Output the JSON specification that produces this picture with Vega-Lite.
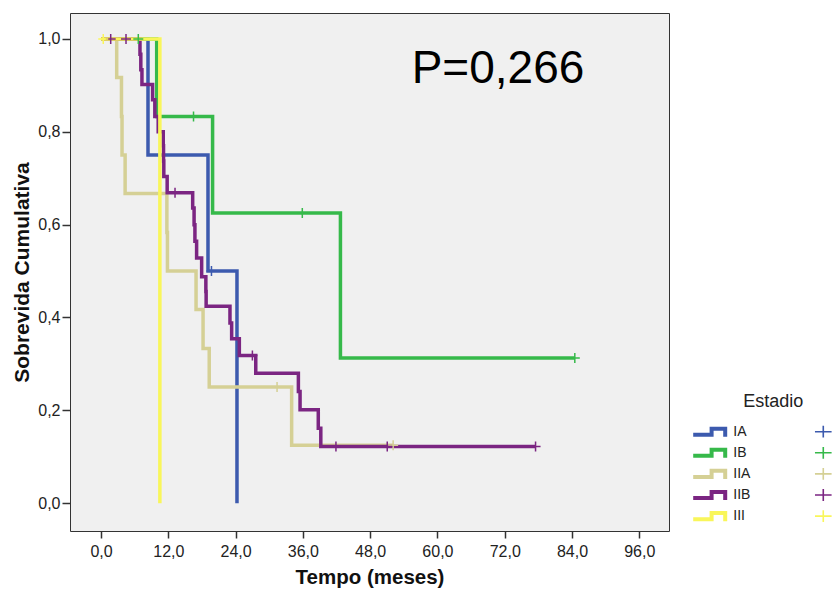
{
  "$schema": "https://vega.github.io/schema/vega-lite/v6.json",
  "width": 599,
  "height": 518,
  "autosize": {"type": "none"},
  "padding": {"top": 13, "left": 70, "right": 166, "bottom": 58},
  "background": "white",
  "config": {
    "font": "Liberation Sans",
    "view": {"fill": "#f0f0f0", "stroke": "#333333", "strokeWidth": 1},
    "axis": {"domain": false, "grid": false, "tickColor": "#333333", "tickWidth": 1.5, "labelColor": "#222222", "labelFontSize": 16, "labelFont": "Liberation Sans", "titleFont": "Liberation Sans", "titleFontWeight": "bold", "titleColor": "#111111"}
  },
  "datasets": {
    "curve": [
      {"Estadio": "IA", "tempo": 0, "sobrevida": 1},
      {"Estadio": "IA", "tempo": 8.38, "sobrevida": 0.75},
      {"Estadio": "IA", "tempo": 19.08, "sobrevida": 0.5},
      {"Estadio": "IA", "tempo": 24.25, "sobrevida": 0},
      {"Estadio": "IB", "tempo": 0, "sobrevida": 1},
      {"Estadio": "IB", "tempo": 9.93, "sobrevida": 0.833},
      {"Estadio": "IB", "tempo": 19.9, "sobrevida": 0.625},
      {"Estadio": "IB", "tempo": 42.7, "sobrevida": 0.3125},
      {"Estadio": "IB", "tempo": 84.5, "sobrevida": 0.3125},
      {"Estadio": "IIA", "tempo": 0, "sobrevida": 1},
      {"Estadio": "IIA", "tempo": 2.8, "sobrevida": 0.917},
      {"Estadio": "IIA", "tempo": 3.65, "sobrevida": 0.833},
      {"Estadio": "IIA", "tempo": 3.75, "sobrevida": 0.75},
      {"Estadio": "IIA", "tempo": 4.3, "sobrevida": 0.667},
      {"Estadio": "IIA", "tempo": 11.75, "sobrevida": 0.583},
      {"Estadio": "IIA", "tempo": 11.85, "sobrevida": 0.5},
      {"Estadio": "IIA", "tempo": 16.95, "sobrevida": 0.417},
      {"Estadio": "IIA", "tempo": 18.2, "sobrevida": 0.333},
      {"Estadio": "IIA", "tempo": 19.3, "sobrevida": 0.25},
      {"Estadio": "IIA", "tempo": 34.0, "sobrevida": 0.125},
      {"Estadio": "IIA", "tempo": 52.1, "sobrevida": 0.125},
      {"Estadio": "IIB", "tempo": 0, "sobrevida": 1},
      {"Estadio": "IIB", "tempo": 6.95, "sobrevida": 0.967},
      {"Estadio": "IIB", "tempo": 7.1, "sobrevida": 0.934},
      {"Estadio": "IIB", "tempo": 7.3, "sobrevida": 0.902},
      {"Estadio": "IIB", "tempo": 9.2, "sobrevida": 0.869},
      {"Estadio": "IIB", "tempo": 9.6, "sobrevida": 0.833},
      {"Estadio": "IIB", "tempo": 10.2, "sobrevida": 0.8},
      {"Estadio": "IIB", "tempo": 11.1, "sobrevida": 0.77},
      {"Estadio": "IIB", "tempo": 11.15, "sobrevida": 0.737},
      {"Estadio": "IIB", "tempo": 11.2, "sobrevida": 0.704},
      {"Estadio": "IIB", "tempo": 11.8, "sobrevida": 0.669},
      {"Estadio": "IIB", "tempo": 16.35, "sobrevida": 0.636},
      {"Estadio": "IIB", "tempo": 16.6, "sobrevida": 0.6},
      {"Estadio": "IIB", "tempo": 16.75, "sobrevida": 0.564},
      {"Estadio": "IIB", "tempo": 17.05, "sobrevida": 0.528},
      {"Estadio": "IIB", "tempo": 17.95, "sobrevida": 0.488},
      {"Estadio": "IIB", "tempo": 18.7, "sobrevida": 0.456},
      {"Estadio": "IIB", "tempo": 18.75, "sobrevida": 0.424},
      {"Estadio": "IIB", "tempo": 23.0, "sobrevida": 0.388},
      {"Estadio": "IIB", "tempo": 23.3, "sobrevida": 0.354},
      {"Estadio": "IIB", "tempo": 24.67, "sobrevida": 0.318},
      {"Estadio": "IIB", "tempo": 27.6, "sobrevida": 0.28},
      {"Estadio": "IIB", "tempo": 35.2, "sobrevida": 0.2405},
      {"Estadio": "IIB", "tempo": 35.5, "sobrevida": 0.201},
      {"Estadio": "IIB", "tempo": 38.75, "sobrevida": 0.1616},
      {"Estadio": "IIB", "tempo": 39.2, "sobrevida": 0.122},
      {"Estadio": "IIB", "tempo": 77.5, "sobrevida": 0.122},
      {"Estadio": "III", "tempo": 0, "sobrevida": 1},
      {"Estadio": "III", "tempo": 10.5, "sobrevida": 0}
    ],
    "censor": [
      {"Estadio": "IA", "tempo": 19.7, "sobrevida": 0.5},
      {"Estadio": "IB", "tempo": 6.65, "sobrevida": 1},
      {"Estadio": "IB", "tempo": 16.5, "sobrevida": 0.833},
      {"Estadio": "IB", "tempo": 35.9, "sobrevida": 0.625},
      {"Estadio": "IB", "tempo": 84.5, "sobrevida": 0.3125},
      {"Estadio": "IIA", "tempo": 31.4, "sobrevida": 0.25},
      {"Estadio": "IIA", "tempo": 52.1, "sobrevida": 0.125},
      {"Estadio": "IIB", "tempo": 1.73, "sobrevida": 1},
      {"Estadio": "IIB", "tempo": 4.46, "sobrevida": 1},
      {"Estadio": "IIB", "tempo": 13.2, "sobrevida": 0.669},
      {"Estadio": "IIB", "tempo": 27.0, "sobrevida": 0.318},
      {"Estadio": "IIB", "tempo": 41.9, "sobrevida": 0.122},
      {"Estadio": "IIB", "tempo": 51.05, "sobrevida": 0.122},
      {"Estadio": "IIB", "tempo": 77.5, "sobrevida": 0.122},
      {"Estadio": "III", "tempo": 0.4, "sobrevida": 1}
    ],
    "anot": [{"label": "P=0,266"}]
  },
  "layer": [
    {"data": {"name": "curve"},
      "mark": {"type": "line", "interpolate": "step-after", "strokeWidth": 3.5},
      "encoding": {
        "x": {"field": "tempo", "type": "quantitative",
          "scale": {"domain": [-5.53, 101.3], "nice": false, "zero": false},
          "axis": {"values": [0, 12, 24, 36, 48, 60, 72, 84, 96], "labelExpr": "replace(format(datum.value, '.1f'), '.', ',')", "tickSize": 7, "labelPadding": 5, "title": "Tempo (meses)", "titleFontSize": 20.5, "titlePadding": 8}},
        "y": {"field": "sobrevida", "type": "quantitative",
          "scale": {"domain": [-0.06, 1.056], "nice": false, "zero": false},
          "axis": {"values": [0, 0.2, 0.4, 0.6, 0.8, 1], "labelExpr": "replace(format(datum.value, '.1f'), '.', ',')", "tickSize": 8, "labelPadding": 2, "title": "Sobrevida Cumulativa", "titleFontSize": 21, "titlePadding": 5}},
        "color": {"field": "Estadio", "type": "nominal",
          "scale": {"domain": ["IA", "IB", "IIA", "IIB", "III"], "range": ["#3C5AAE", "#36B94A", "#D5D095", "#7B2582", "#F9F65A"]},
          "legend": {
            "orient": "none", "legendX": 631.2, "legendY": 380, "padding": 0,
            "title": "Estadio", "titleFontSize": 18, "titleFontWeight": "normal", "titleColor": "#222222", "titleAnchor": "middle", "titleAlign": "center", "titlePadding": 12.7,
            "labelFontSize": 14, "labelColor": "#222222", "labelOffset": 16.1, "rowPadding": 6.1,
            "symbolType": "M-2,0.13H0.05V-0.63H2.25V0.63H1.75V-0.13H0.55V0.63H-2Z M13.22,-0.1H14.16V-0.74H14.36V-0.1H15.3V0.1H14.36V0.74H14.16V0.1H13.22Z M17.06,0",
            "symbolSize": 256, "symbolStrokeWidth": 0,
            "encode": {"symbols": {"update": {"fill": {"scale": "color", "field": "value"}, "stroke": {"value": "transparent"}, "opacity": {"value": 1}, "fillOpacity": {"value": 1}}}}
          }}
      }},
    {"data": {"name": "censor"},
      "mark": {"type": "point", "shape": "M-1,0H1M0,-1V1", "filled": false, "size": 100, "strokeWidth": 1.5, "opacity": 1},
      "encoding": {
        "x": {"field": "tempo", "type": "quantitative"},
        "y": {"field": "sobrevida", "type": "quantitative"},
        "color": {"field": "Estadio", "type": "nominal"}
      }},
    {"data": {"name": "anot"},
      "mark": {"type": "text", "fontSize": 46, "font": "Liberation Sans", "align": "left", "baseline": "alphabetic", "fill": "#000000"},
      "encoding": {"x": {"datum": 55.4, "type": "quantitative"}, "y": {"datum": 0.906, "type": "quantitative"}, "text": {"field": "label", "type": "nominal"}}}
  ]
}
